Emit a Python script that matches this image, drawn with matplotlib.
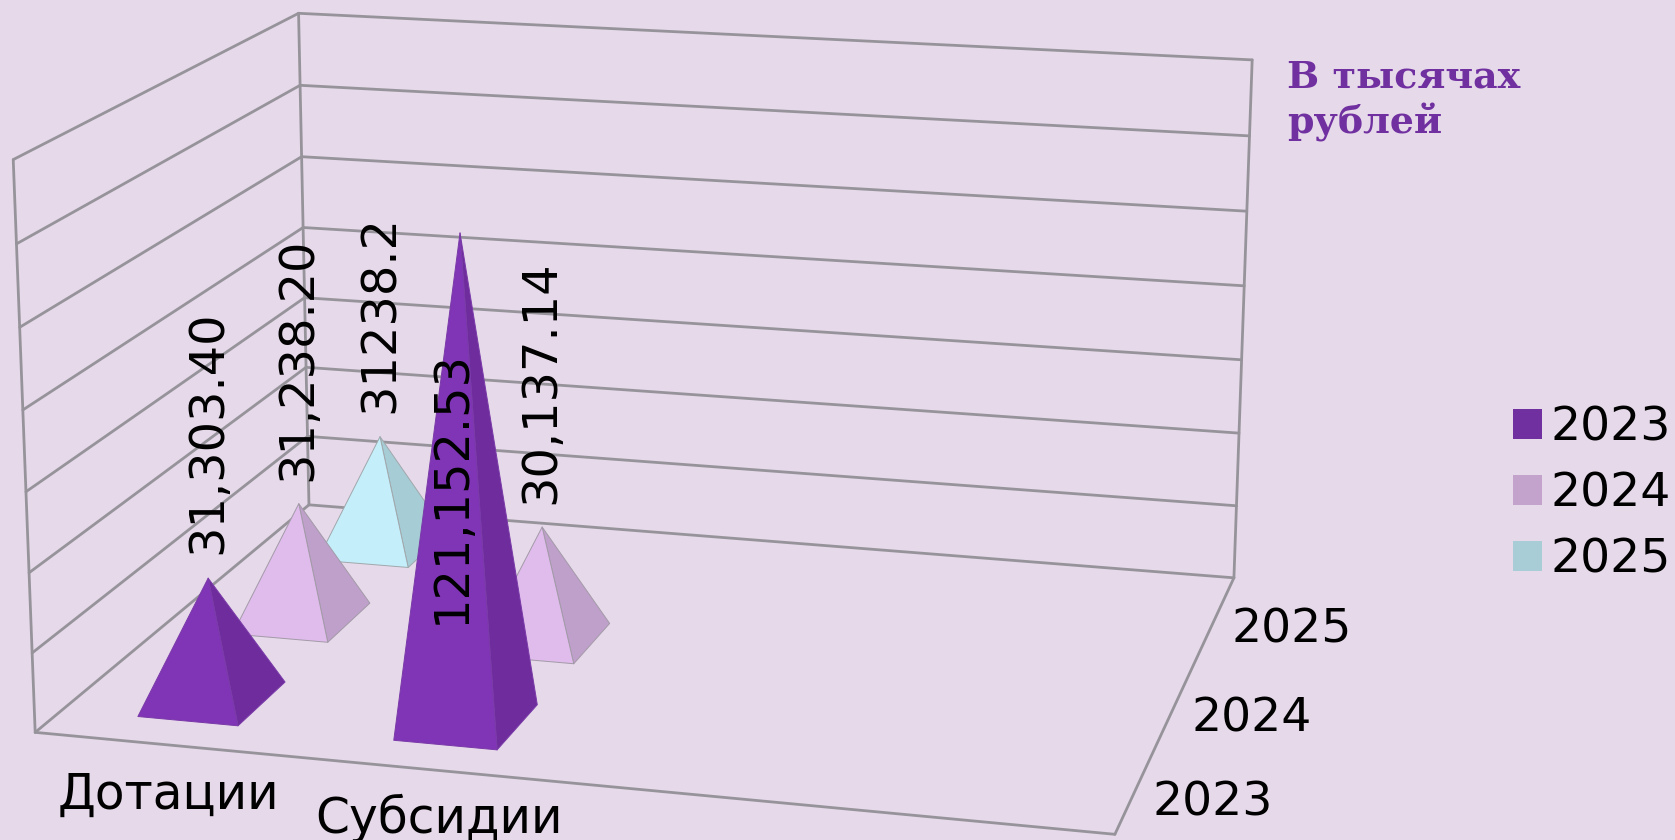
import numpy as np
import matplotlib
matplotlib.use("Agg")
import matplotlib.pyplot as plt
from matplotlib.patches import Patch
from mpl_toolkits.mplot3d.art3d import Poly3DCollection, Line3DCollection

W, H = 1675, 840
categories = ["Дотации", "Субсидии"]
series = ["2023", "2024", "2025"]
values = {
    "2023": [31303.40, 121152.53],
    "2024": [31238.20, 30137.14],
    "2025": [31238.2, None],
}
value_labels = {
    "2023": ["31,303.40", "121,152.53"],
    "2024": ["31,238.20", "30,137.14"],
    "2025": ["31238.2", None],
}
z_ticks = [0, 20000, 40000, 60000, 80000, 100000, 120000, 140000]

BG = "#E6D9EA"
GRID = "#96949A"
legend_colors = {"2023": "#7030A0", "2024": "#C3A3CC", "2025": "#A9CDD6"}
front_colors = {"2023": "#8034B6", "2024": "#DFBCEC", "2025": "#C4EEFA"}
side_colors = {"2023": "#6E2C9C", "2024": "#BFA0CB", "2025": "#A6CCD6"}
edge_colors = {"2023": "#7A3AA8", "2024": "#A39AA8", "2025": "#A0A8AC"}
label_offsets = {
    "2023": [(0, -137), (-8, 238)],
    "2024": [(-1, -135), (-1, -136)],
    "2025": [(0, -115), None],
}
cat_offsets = [(5, 47), (14, 46)]
ser_offsets = [(70, 17), (68, 22), (70, 14)]

N_SLOTS, N_SER, ZMAX = 4, 3, z_ticks[-1]
S = W / 1568

# camera: the wall and floor corners of the box in picture pixels
world = np.array([[0, 0, 0], [4, 0, 0], [4, 3, 0], [0, 3, 0],
                  [0, 0, 1], [0, 3, 1], [4, 3, 1]], float)
pix = np.array([[33, 685], [1044, 781], [1155, 541], [289, 473],
                [12, 150], [280, 12], [1172, 56]], float) * S

fig = plt.figure(figsize=(W / 100, H / 100), dpi=100, facecolor=BG)
ax = fig.add_axes([0, -0.5, 1, 2], projection="3d", computed_zorder=False)
ax.set_axis_off()
ax.patch.set_visible(False)
vx0, vx1 = ax._viewLim.intervalx
vy0, vy1 = ax._viewLim.intervaly

to2d = np.column_stack([vx0 + pix[:, 0] / W * (vx1 - vx0),
                        vy0 + ((H - pix[:, 1]) + (W - H) / 2) / W * (vy1 - vy0)])
A = []
for (X, Y, Z), (u, v) in zip(world, to2d):
    A.append([X, Y, Z, 1, 0, 0, 0, 0, -u * X, -u * Y, -u * Z, -u])
    A.append([0, 0, 0, 0, X, Y, Z, 1, -v * X, -v * Y, -v * Z, -v])
P = np.linalg.svd(np.array(A, float))[2][-1].reshape(3, 4)
if (P @ [2, 1.5, 0.5, 1])[2] < 0:
    P = -P
P[:, 2] /= ZMAX
M = np.array([P[0], P[1], [0, 1, 0, 0], P[2]])
ax.get_proj = lambda: M


def to_pixels(x, y, z):
    q = P @ np.array([x, y, z, 1.0])
    u, v = q[0] / q[2], q[1] / q[2]
    return (u - vx0) / (vx1 - vx0) * W, H + (W - H) / 2 - (v - vy0) / (vy1 - vy0) * W


def put_text(px, py, s, **kw):
    fig.text(px / W, 1 - py / H, s, ha="center", va="center", **kw)


# walls and floor
segs = []
for t in z_ticks:
    segs.append([(0, 0, t), (0, N_SER, t)])
    segs.append([(0, N_SER, t), (N_SLOTS, N_SER, t)])
for x, y in [(0, 0), (0, N_SER), (N_SLOTS, N_SER)]:
    segs.append([(x, y, 0), (x, y, ZMAX)])
segs.append([(0, 0, 0), (N_SLOTS, 0, 0)])
segs.append([(N_SLOTS, 0, 0), (N_SLOTS, N_SER, 0)])
ax.add_collection3d(Line3DCollection(segs, colors=GRID, linewidths=2.0,
                                     capstyle="round", zorder=1))

# pyramids, back to front
for j in range(N_SER - 1, -1, -1):
    name = series[j]
    for i in range(len(categories) - 1, -1, -1):
        val = values[name][i]
        if val is None:
            continue
        cx, cy = i + 0.5, j + 0.5
        fl = (cx - 0.20, cy - 0.24, 0)
        fr = (cx + 0.195, cy - 0.24, 0)
        br = (cx + 0.195, cy + 0.27, 0)
        apex = (cx, cy, val)
        poly = Poly3DCollection([[fl, fr, apex], [fr, br, apex]], closed=True,
                                facecolors=[front_colors[name], side_colors[name]],
                                edgecolors=edge_colors[name], linewidths=0.7,
                                zorder=10 + (N_SER - j) * 3 - i)
        ax.add_collection3d(poly)
        px, py = to_pixels(*apex)
        dx, dy = label_offsets[name][i]
        put_text(px + dx * S, py + dy * S, value_labels[name][i],
                 rotation=90, fontsize=34.5, color="black")

# axis labels
for i, c in enumerate(categories):
    px, py = to_pixels(i + 0.5, 0, 0)
    put_text(px + cat_offsets[i][0] * S, py + cat_offsets[i][1] * S, c, fontsize=35, color="black")
for j, s in enumerate(series):
    px, py = to_pixels(N_SLOTS, j + 0.5, 0)
    put_text(px + ser_offsets[j][0] * S, py + ser_offsets[j][1] * S, s, fontsize=34, color="black")

fig.text(1205 * S / W, 1 - 55 * S / H, "В тысячах\nрублей", family="DejaVu Serif",
         weight="bold", fontsize=27.4, color="#7030A0", va="top", ha="left", linespacing=1.24)

handles = [Patch(facecolor=legend_colors[s], edgecolor="none", label=s) for s in series]
fig.legend(handles=handles, loc="center left", bbox_to_anchor=(1416 * S / W, 1 - 462.5 * S / H),
           frameon=False, fontsize=34, handlelength=0.62, handleheight=0.62,
           handletextpad=0.18, labelspacing=0.445, borderpad=0, borderaxespad=0)

fig.savefig("out.png", dpi=100)
